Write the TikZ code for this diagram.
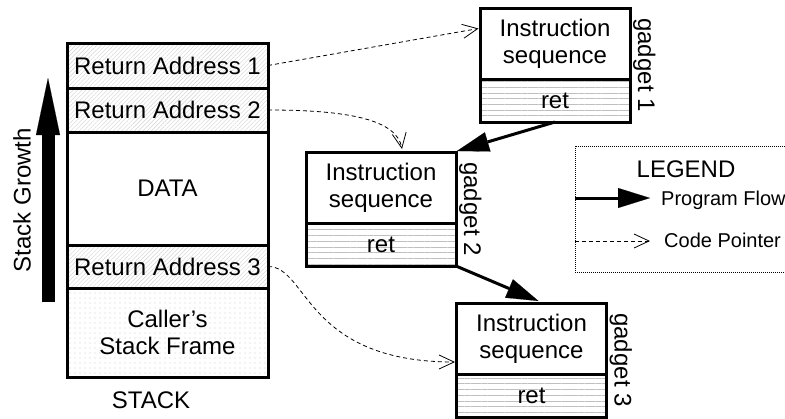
\documentclass[tikz,border=0pt]{standalone}
\usepackage{fontspec}
\setmainfont{Liberation Sans}
\usetikzlibrary{positioning,arrows.meta,patterns.meta}
\tikzset{
	cell/.style={draw,line width=3pt,outer sep=0pt,inner sep=0pt,minimum width=201pt,align=center,font=\fontsize{24}{27}\selectfont},
	retaddr/.style={cell,pattern={Lines[angle=45,distance=3pt,line width=0.4pt]},pattern color=black!18},
	framecell/.style={cell,pattern={Dots[distance=5pt,radius=0.45pt]},pattern color=black!55},
	instr/.style={draw,line width=3pt,outer sep=0pt,inner sep=0pt,minimum width=150pt,minimum height=71pt,align=center,font=\fontsize{24}{27}\selectfont},
	retcode/.style={instr,minimum height=43pt,pattern={Lines[angle=0,distance=5.7pt,line width=0.8pt]},pattern color=black!25},
	gadgetlabel/.style={rotate=-90,anchor=south,inner sep=3pt,font=\fontsize{24}{27}\selectfont},
	flow/.style={line width=3pt,-{Triangle[length=32pt,width=20pt,line width=0.1pt]}},
	pointer/.style={line width=0.8pt,dash pattern=on 4pt off 3pt,-{Straight Barb[length=15pt,width=14pt]}},
	legendtext/.style={anchor=base west,inner sep=0pt,font=\fontsize{20}{24}\selectfont}
}

\begin{document}
\begin{tikzpicture}[x=1pt,y=1pt,font=\fontsize{24}{27}\selectfont]
			\useasboundingbox (0,0) rectangle (785,-418);
			\clip (0,0) rectangle (785,-418);
			\node[retaddr,minimum height=45pt] (ra1) at (167.5,-65.5) {Return Address 1};
			\node[retaddr,minimum height=44pt,below=0pt of ra1] (ra2) {Return Address 2};
			\node[cell,minimum height=113pt,below=0pt of ra2] (data) {DATA};
			\node[retaddr,minimum height=43pt,below=0pt of data] (ra3) {Return Address 3};
			\node[framecell,minimum height=89pt,below=0pt of ra3] (frame) {Caller’s\\Stack Frame};
			\node (stack) at (151,-400) {STACK};
			\coordinate (growth base) at (48,-302);
			\coordinate (growth tip) at (48,-78);
			\draw[line width=13pt,-{Triangle[length=57pt,width=24pt,line width=0.1pt]}] (growth base) -- (growth tip);
			\node[rotate=90] (growth) at (22,-200) {Stack Growth};
			\node[instr] (g1) at (555,-43.5) {Instruction\\sequence};
			\node[retcode,below=0pt of g1] (g1ret) {ret};
			\node[instr] (g2) at (381,-187.5) {Instruction\\sequence};
			\node[retcode,below=0pt of g2] (g2ret) {ret};
			\node[instr] (g3) at (531.5,-338.5) {Instruction\\sequence};
			\node[retcode,below=0pt of g3] (g3ret) {ret};
			\path (g1.north east) -- (g1ret.south east) node[midway,gadgetlabel] (g1lab) {gadget 1};
			\path (g2.north east) -- (g2ret.south east) node[midway,gadgetlabel] (g2lab) {gadget 2};
			\path (g3.north east) -- (g3ret.south east) node[midway,gadgetlabel] (g3lab) {gadget 3};
			\draw[pointer] (ra1.east) -- ([xshift=-1.5pt,yshift=15pt]g1.west);
			\draw[pointer] (ra2.east) to[out=0,in=100,out distance=80pt,in distance=30pt] ([xshift=21pt,yshift=3pt]g2.north);
			\draw[pointer] (ra3.east) to[out=0,in=180,out distance=40pt,in distance=150pt] ([xshift=-1.5pt,yshift=-23.5pt]g3.west);
			\draw[flow] (g1ret.south) -- ([xshift=1pt,yshift=1pt]g2.north east);
			\draw[flow] (g2ret.south east) -- ([xshift=7pt,yshift=2pt]g3.north);
			\draw[line width=0.8pt,dash pattern=on 1pt off 1pt] (575,-146) rectangle (800,-272);
			\node (legend) at (686,-169) {LEGEND};
			\coordinate (flow start) at (575,-198);
			\coordinate (flow end) at (650,-198);
			\draw[flow] (flow start) -- (flow end);
			\node[legendtext] (flow label) at (661,-205) {Program Flow};
			\coordinate (pointer start) at (575,-241);
			\coordinate (pointer end) at (650,-241);
			\draw[pointer] (pointer start) -- (pointer end);
			\node[legendtext] (pointer label) at (664,-247) {Code Pointer};
\end{tikzpicture}
\end{document}
